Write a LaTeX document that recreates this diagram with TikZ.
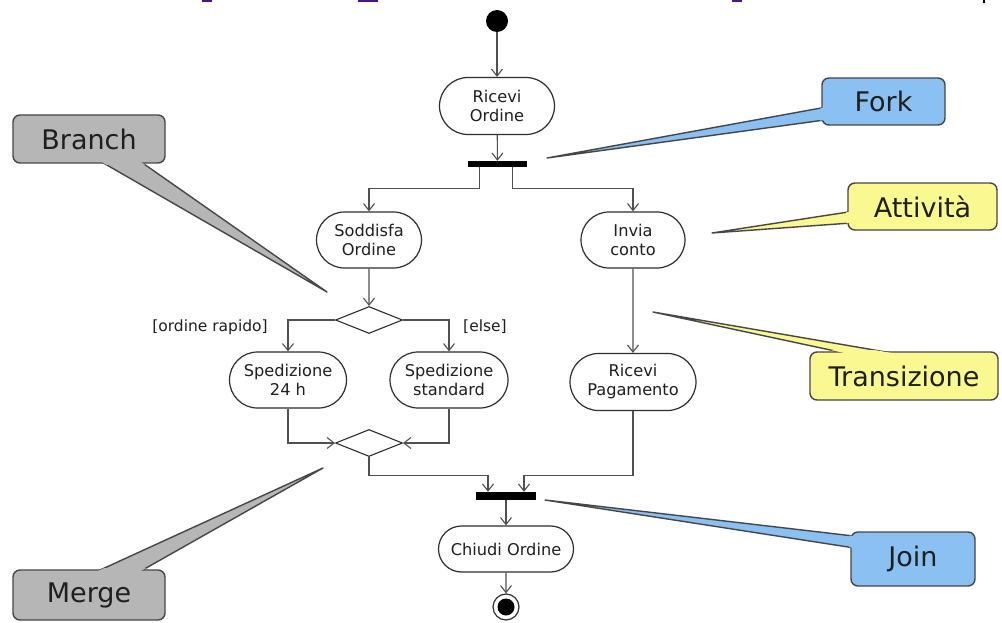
\documentclass[tikz,border=0pt]{standalone}
\usepackage{fontspec}
\setmainfont{DejaVu Sans}
\usetikzlibrary{shapes.misc,shapes.geometric,arrows.meta,calc}

\definecolor{flowline}{RGB}{80,80,80}
\definecolor{boxline}{RGB}{45,45,45}
\definecolor{notegray}{RGB}{182,182,182}
\definecolor{noteblue}{RGB}{138,192,242}
\definecolor{noteyellow}{RGB}{250,248,145}
\definecolor{noteline}{RGB}{70,70,70}
\definecolor{titleviolet}{RGB}{72,22,140}

\tikzset{
  activity/.style={rounded rectangle, draw=boxline, line width=1.2pt, fill=white,
    inner sep=0pt, font=\fontsize{16.2}{19}\selectfont, align=center, text=black!88},
  decision/.style={diamond, draw=boxline, line width=1.1pt, fill=white, inner sep=0pt,
    aspect=2.4, minimum width=67pt, minimum height=27pt},
  syncbar/.style={rectangle, fill=black, inner sep=0pt},
  flow/.style={draw=flowline, line width=1.1pt, -{Straight Barb[length=7pt,width=11pt]}},
  guard/.style={font=\fontsize{15.5}{18}\selectfont, text=black!88, inner sep=0pt},
  note line/.style={draw=noteline, line width=1.4pt, line join=round},
  note text/.style={font=\fontsize{27}{30}\selectfont, text=black!88, inner sep=0pt}
}

% #1 name, #2 fill, #3 top-left corner, #4 bottom-right corner,
% #5 pointer base A, #6 pointer tip, #7 pointer base B, #8 text
\newcommand{\notecallout}[8]{%
  \coordinate (#1-tip) at #6;
  \filldraw[note line, fill=#2] #5 -- (#1-tip) -- #7 -- cycle;
  \filldraw[note line, fill=#2, rounded corners=7pt] #3 rectangle #4;
  \begin{scope}
    \clip ($#3+(-1.6,-1.6)$) rectangle ($#4+(1.6,1.6)$);
    \fill[#2] #5 -- (#1-tip) -- #7 -- cycle;
  \end{scope}
  \node[note text] (#1) at ($#3!0.5!#4$) {#8};
}

\begin{document}
\begin{tikzpicture}[x=1pt,y=-1pt]
  \fill[white] (0,0) rectangle (1002,623);
  \useasboundingbox (0,0) rectangle (1002,623);

  % clipped heading strokes along the top edge
  \fill[titleviolet] (202,0) rectangle (212,2.5);
  \fill[titleviolet] (358,0) rectangle (378,2.5);
  \fill[titleviolet] (732,0) rectangle (742,2.5);
  \fill[black] (982.5,0) rectangle (984.5,3);

  % initial and final nodes
  \node[circle, fill=black, minimum size=22pt, inner sep=0pt] (start) at (497,21) {};
  \node[circle, draw=boxline, line width=1.2pt, fill=white, minimum size=26pt, inner sep=0pt] (end) at (506,607) {};
  \node[circle, fill=black, minimum size=17pt, inner sep=0pt] (endcore) at (end) {};

  % activities
  \node[activity, minimum width=115pt, minimum height=57pt] (ricevi) at (497,106) {Ricevi\\Ordine};
  \node[activity, minimum width=105pt, minimum height=56pt] (sodd) at (369,240) {Soddisfa\\Ordine};
  \node[activity, minimum width=104pt, minimum height=56pt] (invia) at (633,240) {Invia\\conto};
  \node[activity, minimum width=117pt, minimum height=56pt] (sp24) at (288,380) {Spedizione\\24 h};
  \node[activity, minimum width=118pt, minimum height=56pt] (spstd) at (449,380) {Spedizione\\standard};
  \node[activity, minimum width=126pt, minimum height=57pt] (ricpag) at (633,382) {Ricevi\\Pagamento};
  \node[activity, minimum width=135pt, minimum height=46pt] (chiudi) at (506,549) {Chiudi Ordine};

  % decisions
  \node[decision] (branch) at (369,320) {};
  \node[decision] (merge) at (369,443) {};

  % synchronisation bars
  \node[syncbar, minimum width=59pt, minimum height=6pt] (fork) at (497.5,164) {};
  \node[syncbar, minimum width=60pt, minimum height=8pt] (join) at (506,496) {};

  % guards
  \node[guard] (gfast) at (210,327) {[ordine rapido]};
  \node[guard] (gelse) at (485,327) {[else]};

  % transitions
  \draw[flow] (start) -- (ricevi);
  \draw[flow] (ricevi) -- (fork);
  \draw[flow] ([xshift=-18pt]fork.south) -- ++(0,21) -| (sodd.north);
  \draw[flow] ([xshift=15pt]fork.south) -- ++(0,21) -| (invia.north);
  \draw[flow] (sodd) -- (branch);
  \draw[flow] (branch.west) -| (sp24.north);
  \draw[flow] (branch.east) -| (spstd.north);
  \draw[flow] (invia) -- (ricpag);
  \draw[flow] (sp24.south) |- (merge.west);
  \draw[flow] (spstd.south) |- (merge.east);
  \draw[flow] (merge.south) -- ++(0,18.5) -| ([xshift=-18pt]join.north);
  \draw[flow] (ricpag.south) -- ++(0,64.5) -| ([xshift=18pt]join.north);
  \draw[flow] (join) -- (chiudi);
  \draw[flow] (chiudi) -- (end);

  % callouts
  \notecallout{branchnote}{notegray}{(13,115)}{(165,163)}{(93,157)}{(327,292)}{(134,157)}{Branch}
  \notecallout{mergenote}{notegray}{(13,570)}{(165,620)}{(87,576)}{(323,468)}{(132,576)}{Merge}
  \notecallout{forknote}{noteblue}{(822,78)}{(945,125)}{(832,106)}{(547,158)}{(832,119)}{Fork}
  \notecallout{attnote}{noteyellow}{(848,183)}{(997,230)}{(858,210.5)}{(712,233)}{(858,222.5)}{Attività}
  \notecallout{transnote}{noteyellow}{(810,352)}{(998,400)}{(863,357)}{(653,312)}{(915,357)}{Transizione}
  \notecallout{joinnote}{noteblue}{(851,532)}{(975,586)}{(862,537)}{(545,500)}{(861,549)}{Join}
\end{tikzpicture}
\end{document}
